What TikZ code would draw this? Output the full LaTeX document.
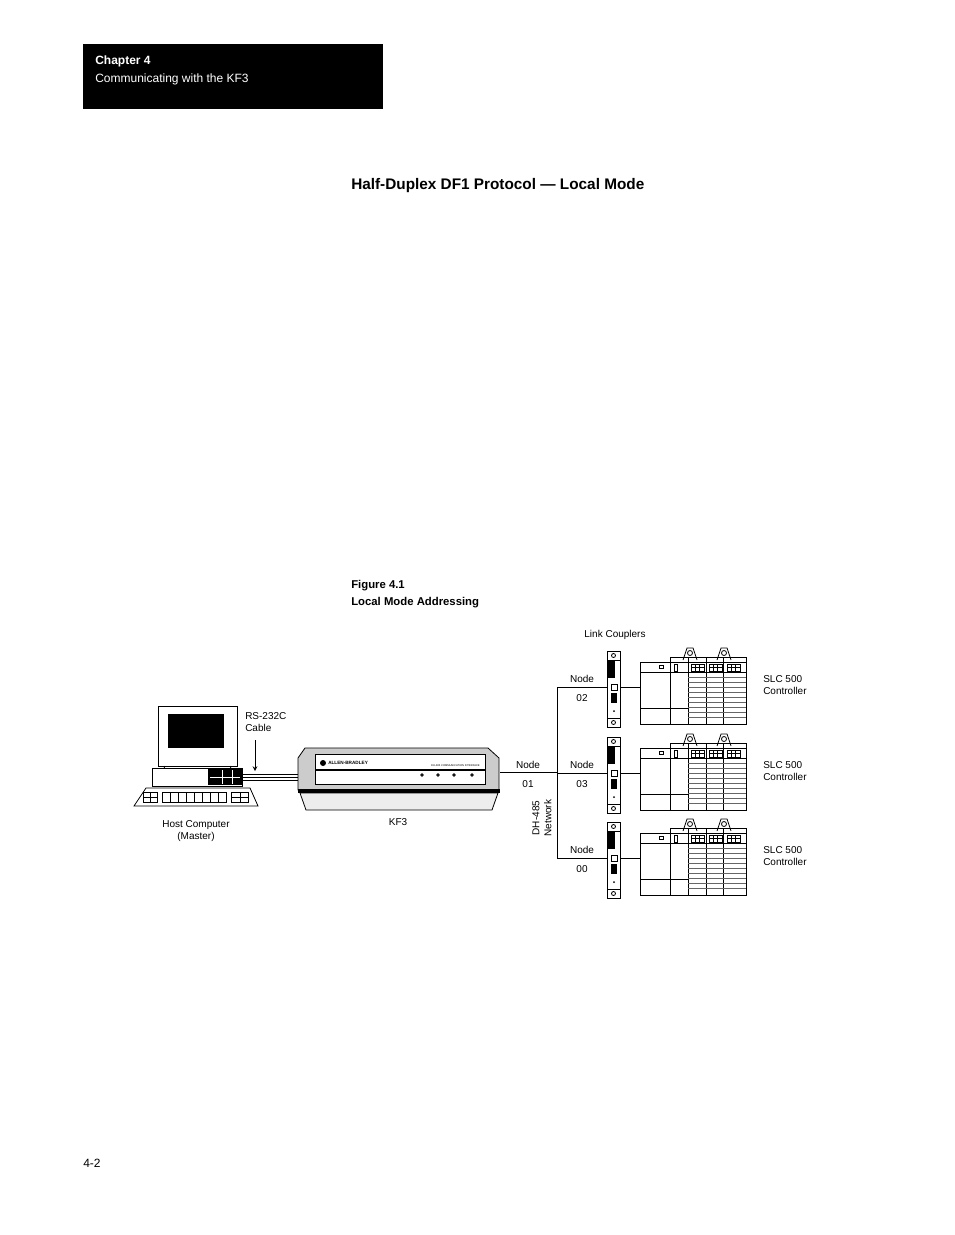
\documentclass[tikz,border=0pt]{standalone}
\usepackage{fontspec}
\setmainfont{Liberation Sans}
\begin{document}
\begin{tikzpicture}[x=0.75pt,y=-0.75pt,
 lbl/.style={font=\fontsize{7.5}{9}\selectfont,inner sep=0pt,align=center},
 thin/.style={line width=0.6pt}]
\useasboundingbox (0,0) rectangle (954,1235);
% header
\node[fill=black,minimum width=225pt,minimum height=48.75pt,inner sep=0pt,anchor=north west] (hdr) at (83,44) {};
\node[anchor=west,text=white,font=\fontsize{9}{11}\selectfont\bfseries,inner sep=0pt] (ch) at (95,61) {Chapter 4};
\node[anchor=west,text=white,font=\fontsize{9}{11}\selectfont,inner sep=0pt] (cw) at (95,79) {Communicating with the KF3};
\node[anchor=west,font=\fontsize{11.5}{14}\selectfont\bfseries,inner sep=0pt] (title) at (351,186) {Half-Duplex DF1 Protocol — Local Mode};
\node[anchor=west,font=\fontsize{8.5}{10}\selectfont\bfseries,inner sep=0pt] (f1) at (351,586) {Figure 4.1};
\node[anchor=west,font=\fontsize{8.5}{10}\selectfont\bfseries,inner sep=0pt] (f2) at (351,603) {Local Mode Addressing};
\node[anchor=west,font=\fontsize{9}{11}\selectfont,inner sep=0pt] (pg) at (83,1163) {4-2};
% computer
\draw[thin,fill=white] (158,706) rectangle (237,766);
\fill[black] (168,714) rectangle (224,748);
\draw[thin] (165,766) -- (160,778) (230,766) -- (235,778);
\draw[thin,fill=white] (152,768) rectangle (242,786);
\fill[black] (208,769) rectangle (242,785);
\draw[white,thin] (210,777) -- (240,777) (222,770) -- (222,784) (232,770) -- (232,784);
\draw[thin,fill=white] (146,788) -- (250,788) -- (258,806) -- (134,806) -- cycle;
\draw[thin] (143,792) rectangle (157,802) (162,792) rectangle (226,802) (231,792) rectangle (248,802);
\foreach \x in {170,178,186,194,202,210,218} {\draw[thin] (\x,792) -- (\x,802);}
\draw[thin] (143,797) -- (157,797) (231,797) -- (248,797) (150,792) -- (150,802) (240,792) -- (240,802);
\node[lbl] (hc) at (196,831) {Host Computer\\(Master)};
% cable
\draw[thin] (242,774) -- (300,774) (242,777) -- (300,777) (242,780) -- (300,780);
\node[lbl,align=left,anchor=west] (rs) at (245,722) {RS-232C\\Cable};
\coordinate (a1) at (255,740); \coordinate (a2) at (255,771);
\draw[-stealth,thin] (a1) -- (a2);
% KF3
\draw[thin,fill=black!20] (305,748) -- (488,748) -- (499,758) -- (499,790) -- (298,790) -- (298,758) -- cycle;
\draw[thin,fill=white] (315,754) rectangle (485,784);
\draw[line width=1.2pt] (315,770) -- (485,770);
\fill[black] (298,789) rectangle (500,793);
\draw[thin,fill=black!7] (300,793) -- (498,793) -- (492,810) -- (306,810) -- cycle;
\fill (323,763) circle (3);
\node[font=\fontsize{3.5}{4}\selectfont\bfseries,anchor=west,inner sep=0pt] (ab) at (328,763) {ALLEN-BRADLEY};
\node[font=\fontsize{2}{3}\selectfont,anchor=east,inner sep=0pt] (ci) at (480,766) {DH-485 COMMUNICATION INTERFACE};
\foreach \x in {422,438,454,472} {\draw[thin] (\x,775) circle (1.2);}
\node[lbl] (kf3) at (398,822) {KF3};
% bus
\coordinate (n1) at (500,772);
\coordinate (b2) at (557,687); \coordinate (b3) at (557,772); \coordinate (b0) at (557,858);
\draw[thin] (n1) -- (b3);
\draw[thin] (b2) -- (b0);
\node[lbl] (nd1) at (528,765) {Node};
\node[lbl] (nd1b) at (528,784) {01};
\node[lbl,rotate=90] (dh) at (542,818) {DH-485\\Network};
\node[lbl] (lc) at (615,635) {Link Couplers};
\foreach \yy/\nn in {651/02,737/03,822/00} {
 \begin{scope}[yshift=-0.75*(\yy-651)]
  \draw[thin] (557,687) -- (607,687) (620,687) -- (640,687);
  \draw[thin,fill=white] (607,651) rectangle (620,727);
  \draw[thin] (607,660) -- (620,660) (607,718) -- (620,718);
  \draw[thin] (613.5,655.5) circle (2) (613.5,722.5) circle (2);
  \fill (607,660) rectangle (615,678);
  \draw[thin] (611,684) rectangle (617,690);
  \fill (611,693) rectangle (617,703);
  \fill (614,711) circle (1);
  % rack
  \draw[thin] (683,660) -- (687,648) -- (693,648) -- (697,660);
  \draw[thin] (690,653) circle (2.5);
  \draw[thin] (717,660) -- (721,648) -- (727,648) -- (731,660);
  \draw[thin] (724,653) circle (2.5);
  \draw[thin] (640,662) rectangle (746,724);
  \draw[thin] (670,657) -- (746,657) -- (746,662);
  \draw[thin] (640,672) -- (746,672);
  \draw[thin] (640,708) -- (688,708);
  \foreach \x in {670,688,706,723} {\draw[thin] (\x,657) -- (\x,724);}
  \foreach \y in {677,682,687,692,697,702,707,712,717} {\draw[thin,black!60] (688,\y) -- (746,\y);}
  \draw[thin] (659,665) rectangle (663,668);
  \draw[thin] (674,664) rectangle (677,671);
  \foreach \x in {691,709,727} {\draw[thin] (\x,664) rectangle (\x+13,671); \draw[thin] (\x+4,664)--(\x+4,671) (\x+8,664)--(\x+8,671) (\x,667.5)--(\x+13,667.5);}
  \node[lbl] at (582,679) {Node};
  \node[lbl] at (582,698) {\nn};
  \node[lbl,align=left,anchor=west] at (763,685) {SLC 500\\Controller};
 \end{scope}
}
\end{tikzpicture}
\end{document}
